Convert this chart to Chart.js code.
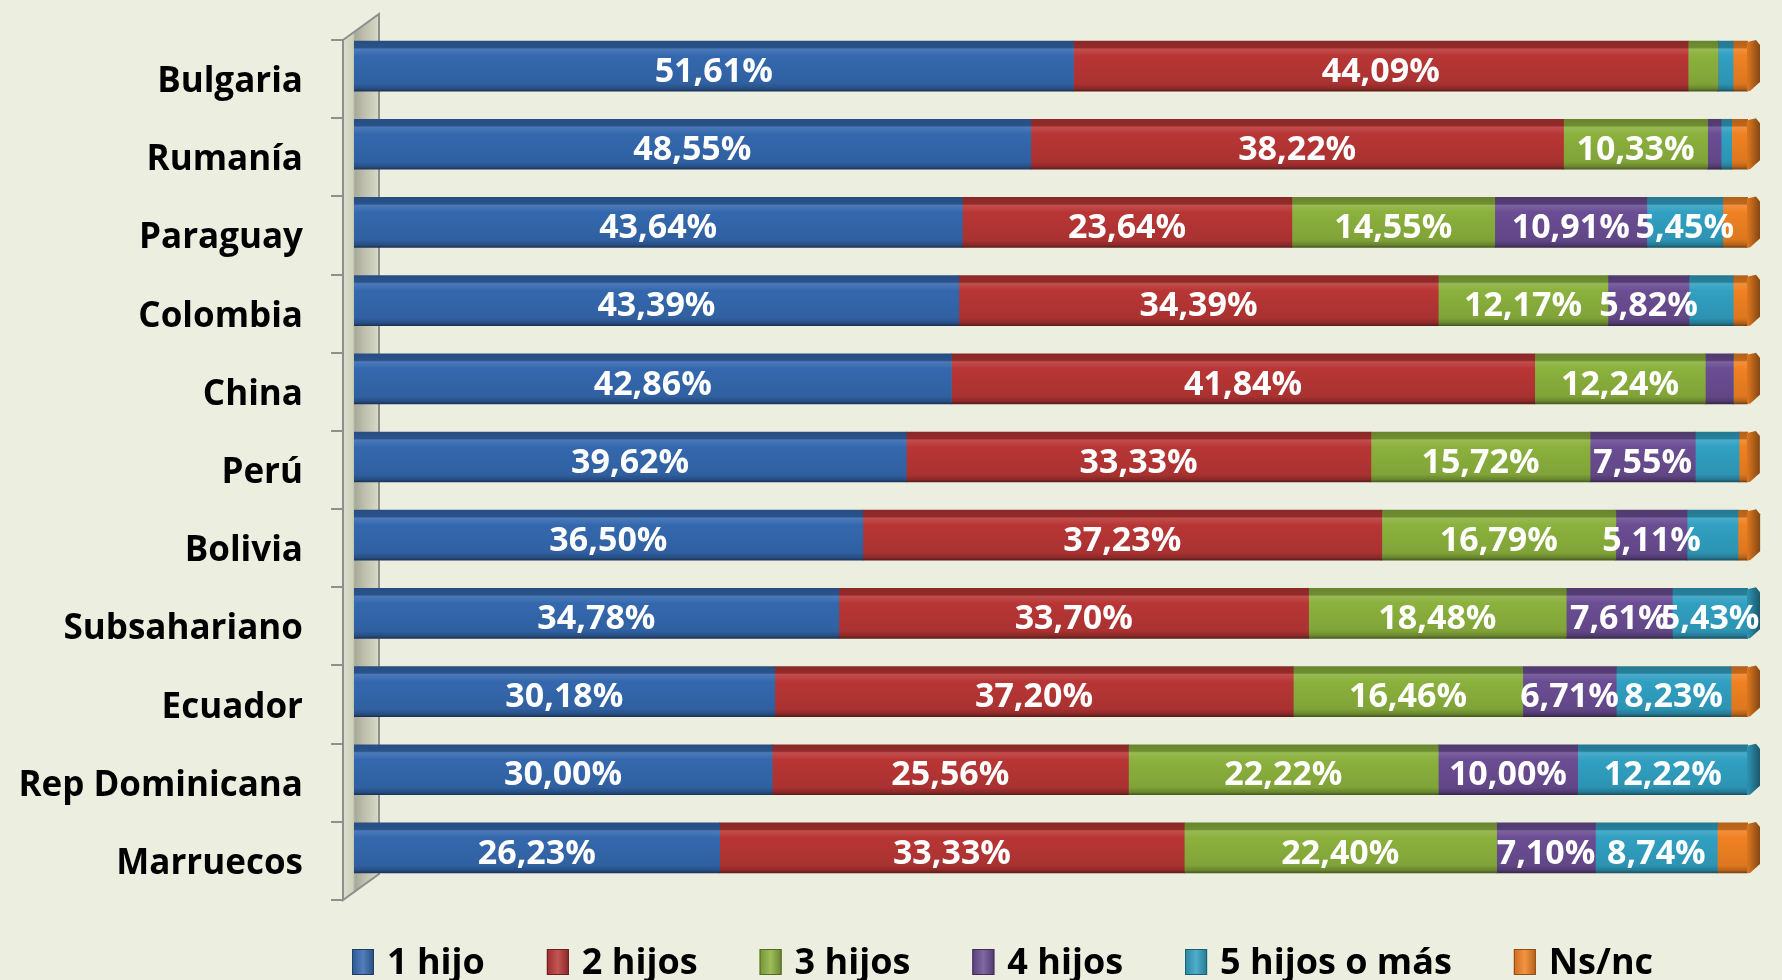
<!DOCTYPE html>
<html>
<head>
<meta charset="utf-8">
<script src="https://cdn.jsdelivr.net/npm/chart.js@4.4.0/dist/chart.umd.min.js"></script>
<style>
  html, body { margin: 0; padding: 0; background: #ECEFE0; }
  canvas { display: block; }
</style>
</head>
<body>
<canvas id="hijosChart" width="1782" height="980"></canvas>
<script>
// datos (porcentajes por país)
const paises = ['Bulgaria', 'Rumanía', 'Paraguay', 'Colombia', 'China', 'Perú', 'Bolivia', 'Subsahariano', 'Ecuador', 'Rep Dominicana', 'Marruecos'];
const series = ['1 hijo', '2 hijos', '3 hijos', '4 hijos', '5 hijos o más', 'Ns/nc'];
const unHijo = [51.61, 48.55, 43.64, 43.39, 42.86, 39.62, 36.50, 34.78, 30.18, 30.00, 26.23];
const dosHijos = [44.09, 38.22, 23.64, 34.39, 41.84, 33.33, 37.23, 33.70, 37.20, 25.56, 33.33];
const tresHijos = [2.15, 10.33, 14.55, 12.17, 12.24, 15.72, 16.79, 18.48, 16.46, 22.22, 22.40];
const cuatroHijos = [0, 0.97, 10.91, 5.82, 2.00, 7.55, 5.11, 7.61, 6.71, 10.00, 7.10];
const cincoHijos = [1.08, 0.76, 5.45, 3.17, 0, 3.14, 3.65, 5.43, 8.23, 12.22, 8.74];
const nsnc = [1.07, 1.17, 1.81, 1.06, 1.06, 0.63, 0.73, 0, 1.22, 0, 2.20];

const colores = ['#3468AE', '#B83635', '#8BB13D', '#6A4D93', '#31A0C2', '#F08122'];

const FONT = '"Open Sans", "Noto Sans", sans-serif';
const BAR_H = 50;
const BAR_SHIFT = -13;   // las barras van algo por encima del centro de la banda

// aclarar (f>0) u oscurecer (f<0) un color
const shade = (hex, f) => {
    const n = parseInt(hex.slice(1), 16);
    let r = n >> 16, g = (n >> 8) & 255, b = n & 255;
    const t = f < 0 ? 0 : 255, p = Math.abs(f);
    r = Math.round((t - r) * p + r);
    g = Math.round((t - g) * p + g);
    b = Math.round((t - b) * p + b);
    return `rgb(${r},${g},${b})`;
};

// relleno con aspecto 3D (cara superior oscura + brillo)
const barFill = (i) => (ctx) => {
    const base = colores[i];
    const chart = ctx.chart;
    if (ctx.type !== 'data' || !chart.chartArea || !chart.scales.y) return base;
    const yc = chart.scales.y.getPixelForValue(ctx.dataIndex);
    const g = chart.ctx.createLinearGradient(0, yc - BAR_H / 2, 0, yc + BAR_H / 2);
    g.addColorStop(0, shade(base, -0.25));
    g.addColorStop(0.13, shade(base, -0.2));
    g.addColorStop(0.16, shade(base, 0.12));
    g.addColorStop(0.3, base);
    g.addColorStop(0.85, shade(base, -0.08));
    g.addColorStop(0.95, shade(base, -0.25));
    g.addColorStop(1, shade(base, -0.5));
    return g;
};

const valores = [unHijo, dosHijos, tresHijos, cuatroHijos, cincoHijos, nsnc];

const decor = {
    id: 'decor',
    beforeDraw(chart) {
        const { ctx, chartArea: a } = chart;
        const y = chart.scales.y;
        ctx.save();
        ctx.fillStyle = '#ECEFE0';
        ctx.fillRect(0, 0, chart.width, chart.height);

        // pared lateral
        const x0 = a.left - 11, x1 = a.left + 25, d = 26;
        const g = ctx.createLinearGradient(x0, 0, x1, 0);
        g.addColorStop(0, '#DCDFCB');
        g.addColorStop(0.28, '#CDD0BB');
        g.addColorStop(0.33, '#A7A999');
        g.addColorStop(0.6, '#BEC0AD');
        g.addColorStop(1, '#D9DBC9');
        ctx.beginPath();
        ctx.moveTo(x0, a.top);
        ctx.lineTo(x1, a.top - d);
        ctx.lineTo(x1, a.bottom - d);
        ctx.lineTo(x0, a.bottom);
        ctx.closePath();
        ctx.fillStyle = g;
        ctx.fill();
        ctx.strokeStyle = '#8F8F8F';
        ctx.lineWidth = 2;
        ctx.stroke();

        // marcas del eje
        const band = y.getPixelForValue(1) - y.getPixelForValue(0);
        ctx.beginPath();
        for (let i = 0; i <= paises.length; i++) {
            const ty = Math.round(y.getPixelForValue(i) - band / 2);
            ctx.moveTo(x0 - 12, ty);
            ctx.lineTo(x0, ty);
        }
        ctx.stroke();
        ctx.restore();
    },
    beforeDatasetsDraw(chart) {
        chart.ctx.save();
        chart.ctx.translate(0, BAR_SHIFT);
    },
    afterDatasetsDraw(chart) {
        const ctx = chart.ctx;
        // tapa final de cada barra
        for (let i = 0; i < paises.length; i++) {
            let last = -1;
            valores.forEach((v, d) => { if (v[i] > 0) last = d; });
            if (last < 0) continue;
            const el = chart.getDatasetMeta(last).data[i];
            const x = el.x, top = el.y - BAR_H / 2, bot = el.y + BAR_H / 2;
            const col = colores[last];
            ctx.beginPath();
            ctx.moveTo(x - 1, top + 1);
            ctx.lineTo(x + 8, top - 1);
            ctx.lineTo(x + 12, top + 4);
            ctx.lineTo(x + 12, bot - 9);
            ctx.lineTo(x + 2, bot);
            ctx.lineTo(x - 1, bot);
            ctx.closePath();
            const g = ctx.createLinearGradient(x, 0, x + 12, 0);
            g.addColorStop(0, shade(col, -0.1));
            g.addColorStop(1, shade(col, -0.45));
            ctx.fillStyle = g;
            ctx.fill();
        }

        // etiquetas de datos
        ctx.font = `bold 34px ${FONT}`;
        ctx.fillStyle = '#FFFFFF';
        ctx.textAlign = 'center';
        ctx.textBaseline = 'middle';
        chart.data.datasets.forEach((ds, d) => {
            chart.getDatasetMeta(d).data.forEach((el, i) => {
                const v = ds.data[i];
                if (v < 5) return;
                const txt = v.toFixed(2).replace('.', ',') + '%';
                ctx.fillText(txt, (el.base + el.x) / 2, el.y + 6);
            });
        });
        ctx.restore();
    },
    afterDraw(chart) {
        // leyenda inferior
        const ctx = chart.ctx;
        const a = chart.chartArea;
        ctx.save();
        ctx.font = `bold 36px ${FONT}`;
        ctx.textBaseline = 'middle';
        ctx.textAlign = 'left';
        let x = a.left - 2;
        const yc = 962;
        chart.data.datasets.forEach((ds, d) => {
            const col = colores[d];
            const g = ctx.createLinearGradient(x, 0, x + 22, 0);
            g.addColorStop(0, shade(col, -0.15));
            g.addColorStop(0.5, shade(col, 0.15));
            g.addColorStop(1, shade(col, -0.25));
            ctx.fillStyle = g;
            ctx.fillRect(x, yc - 13, 22, 26);
            ctx.strokeStyle = shade(col, -0.4);
            ctx.lineWidth = 1;
            ctx.strokeRect(x + 0.5, yc - 12.5, 21, 25);
            ctx.fillStyle = '#000000';
            ctx.fillText(ds.label, x + 35, yc + 2);
            x += 35 + ctx.measureText(ds.label).width + 62;
        });
        ctx.restore();
    }
};

const ctx = document.getElementById('hijosChart').getContext('2d');
// eslint-disable-next-line no-undef
new Chart(ctx, {
    type: 'bar',
    data: {
        labels: paises,
        datasets: valores.map((v, i) => ({
            label: series[i],
            data: v,
            backgroundColor: barFill(i),
            borderWidth: 0,
            barThickness: BAR_H
        }))
    },
    options: {
        indexAxis: 'y',
        responsive: false,
        animation: false,
        devicePixelRatio: 1,
        layout: { padding: { top: 40, right: 34, bottom: 80, left: 0 } },
        plugins: {
            legend: { display: false },
            tooltip: { enabled: false }
        },
        scales: {
            x: { stacked: true, min: 0, max: 100, display: false },
            y: {
                stacked: true,
                grid: { display: false, drawTicks: false },
                border: { display: false },
                ticks: {
                    color: '#000000',
                    padding: 51,
                    labelOffset: 3,
                    font: { family: FONT, size: 35, weight: 'bold' }
                },
                afterFit: (scale) => {
                    scale.width = 354;
                    scale.paddingTop = 0;
                    scale.paddingBottom = 0;
                }
            }
        }
    },
    plugins: [decor]
});
</script>
</body>
</html>
